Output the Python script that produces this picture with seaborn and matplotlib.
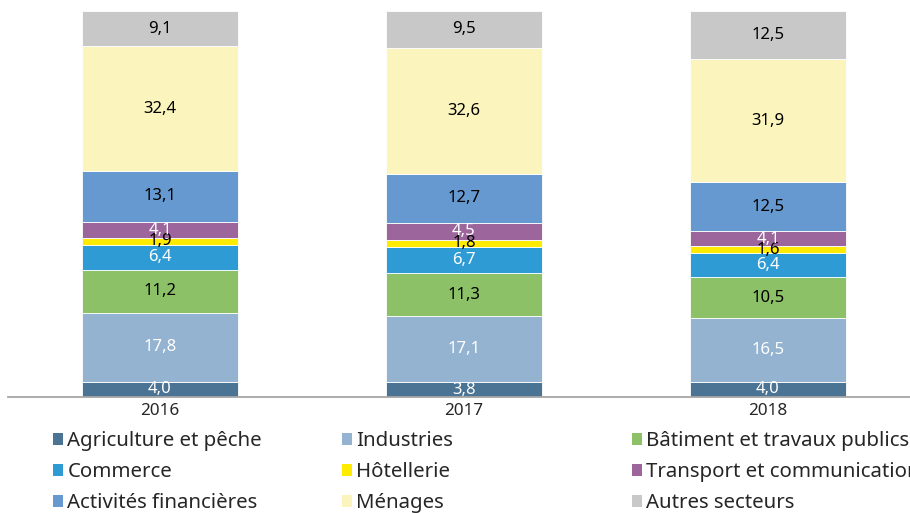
import matplotlib
matplotlib.use("Agg")
import matplotlib.pyplot as plt
import seaborn as sns
import numpy as np
from matplotlib.patches import Patch

years = ["2016", "2017", "2018"]
sectors = ["Agriculture et pêche", "Industries", "Bâtiment et travaux publics",
           "Commerce", "Hôtellerie", "Transport et communication",
           "Activités financières", "Ménages", "Autres secteurs"]
agriculture = [4.0, 3.8, 4.0]
industries = [17.8, 17.1, 16.5]
batiment = [11.2, 11.3, 10.5]
commerce = [6.4, 6.7, 6.4]
hotellerie = [1.9, 1.8, 1.6]
transport = [4.1, 4.5, 4.1]
financieres = [13.1, 12.7, 12.5]
menages = [32.4, 32.6, 31.9]
autres = [9.1, 9.5, 12.5]
series = [agriculture, industries, batiment, commerce, hotellerie, transport,
          financieres, menages, autres]

colors = ["#4a7394", "#93b3d0", "#8cc168", "#2e9bd5", "#ffeb00", "#9c659c",
          "#6699d0", "#fbf4bc", "#c8c8c8"]
label_colors = ["white", "white", "black", "white", "black", "white",
                "black", "black", "black"]

sns.set_theme(style="white")
plt.rcParams["font.family"] = ["Noto Sans", "DejaVu Sans"]

fig = plt.figure(figsize=(9.1, 5.13), dpi=100)
ax = fig.add_axes([8 / 910, (513 - 397) / 513, (920 - 8) / 910, (397 - 11) / 513])

cum = np.zeros(len(years))
for name, vals, col, lc in zip(sectors, series, colors, label_colors):
    sns.barplot(x=years, y=vals, bottom=cum, color=col, width=0.513,
                edgecolor="white", linewidth=0.6, ax=ax, saturation=1)
    cont = ax.containers[-1]
    ax.bar_label(cont, labels=[f"{v:.1f}".replace(".", ",") for v in vals],
                 label_type="center", color=lc, fontsize=12)
    cum = cum + np.array(vals)

ax.set_xlim(-0.5, 2.5)
ax.set_ylim(0, 100)
ax.set_yticks([])
ax.set_ylabel("")
for s in ["top", "right", "left"]:
    ax.spines[s].set_visible(False)
ax.spines["bottom"].set_color("#a6a6a6")
ax.spines["bottom"].set_linewidth(1.3)
ax.tick_params(axis="x", length=0, labelsize=12.3, pad=4.5)

handles = [Patch(facecolor=c, edgecolor="none") for c in colors]
col_x = [53, 342, 632]
for ci in range(3):
    idx = [ci, ci + 3, ci + 6]
    fig.legend([handles[i] for i in idx], [sectors[i] for i in idx],
               loc="upper left", bbox_to_anchor=(col_x[ci] / 910, 1 - 431 / 513),
               frameon=False, fontsize=14.7, handlelength=0.5, handleheight=0.5,
               handletextpad=0.2, labelspacing=0.55, borderpad=0, borderaxespad=0)

fig.savefig("out.png", dpi=100)
